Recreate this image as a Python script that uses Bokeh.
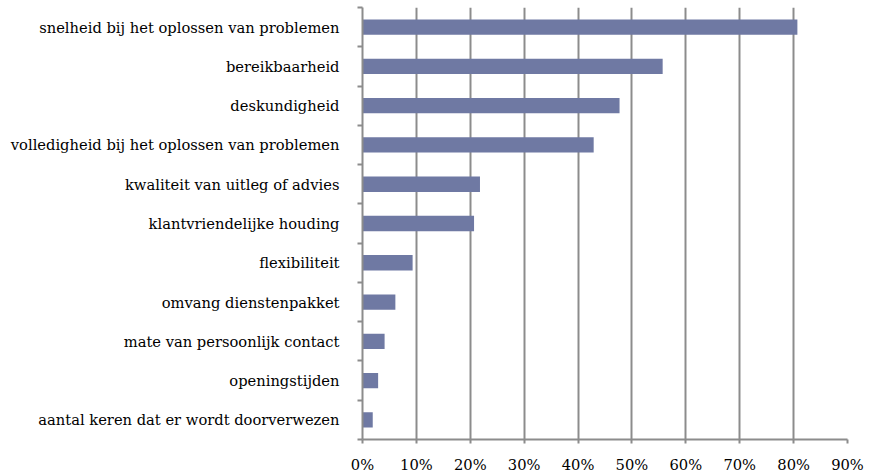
from bokeh.plotting import figure
from bokeh.models import Range1d, FixedTicker, PrintfTickFormatter
from bokeh.embed import file_html
from bokeh.resources import INLINE

categories = [
    "snelheid bij het oplossen van problemen",
    "bereikbaarheid",
    "deskundigheid",
    "volledigheid bij het oplossen van problemen",
    "kwaliteit van uitleg of advies",
    "klantvriendelijke houding",
    "flexibiliteit",
    "omvang dienstenpakket",
    "mate van persoonlijk contact",
    "openingstijden",
    "aantal keren dat er wordt doorverwezen",
]
values = [80.7, 55.7, 47.7, 42.9, 21.8, 20.7, 9.3, 6.1, 4.1, 2.9, 1.9]
x_ticks = [0, 10, 20, 30, 40, 50, 60, 70, 80, 90]

n = len(categories)
ypos = [n - i - 0.5 for i in range(n)]

FONT = "DejaVu Serif"
GRID = "#8c8c8c"
BAR = "#6f79a3"

p = figure(width=877, height=476, output_backend="svg", toolbar_location=None,
           x_range=Range1d(0, 90), y_range=Range1d(0, n),
           min_border_left=362, min_border_right=30, min_border_top=7, min_border_bottom=37)
p.outline_line_color = None
p.background_fill_color = "white"
p.border_fill_color = "white"

p.hbar(y=ypos, right=values, left=0, height=0.39, fill_color=BAR, line_color=None)

# x axis
xa = p.xaxis[0]
xa.ticker = FixedTicker(ticks=x_ticks)
xa.formatter = PrintfTickFormatter(format="%d%%")
xa.axis_line_color = GRID
xa.axis_line_width = 2
xa.major_tick_line_color = GRID
xa.major_tick_line_width = 2
xa.major_tick_out = 4
xa.major_tick_in = 0
xa.minor_tick_line_color = None
xa.major_label_text_font = FONT
xa.major_label_text_font_size = "14.7px"
xa.major_label_text_color = "black"
xa.major_label_standoff = 12

# y axis
ya = p.yaxis[0]
ya.ticker = FixedTicker(ticks=ypos, minor_ticks=list(range(n + 1)))
ya.major_label_overrides = {y: c for y, c in zip(ypos, categories)}
ya.axis_line_color = GRID
ya.axis_line_width = 2
ya.major_tick_line_color = None
ya.major_tick_out = 0
ya.major_tick_in = 0
ya.minor_tick_line_color = GRID
ya.minor_tick_line_width = 2
ya.minor_tick_out = 5
ya.minor_tick_in = 0
ya.major_label_text_font = FONT
ya.major_label_text_font_size = "14.7px"
ya.major_label_text_color = "black"
ya.major_label_standoff = 18

p.xgrid.ticker = FixedTicker(ticks=x_ticks)
p.xgrid.grid_line_color = GRID
p.xgrid.grid_line_width = 2
p.ygrid.grid_line_color = None

open("out.html", "w").write(file_html(p, INLINE))
